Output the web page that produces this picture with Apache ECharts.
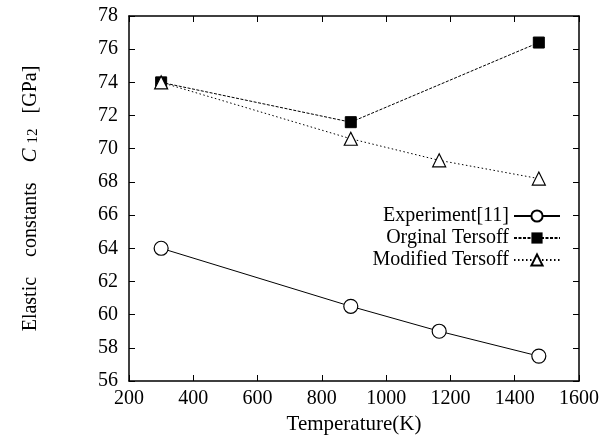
<!DOCTYPE html>
<html>
<head>
<meta charset="utf-8">
<script src="https://cdn.jsdelivr.net/npm/echarts@6/dist/echarts.min.js"></script>
<style>
  html, body { margin: 0; padding: 0; background: #fff; }
  #main { width: 610px; height: 435px; }
</style>
</head>
<body>
<div id="main"></div>
<script>
var expT = [300, 890, 1165, 1475];
var expC12 = [64.0, 60.5, 59.0, 57.5];
var origT = [300, 890, 1475];
var origC12 = [74.0, 71.6, 76.4];
var modT = [300, 890, 1165, 1475];
var modC12 = [74.0, 70.6, 69.3, 68.2];

function pairs(xs, ys) {
  return xs.map(function (x, i) { return [x, ys[i]]; });
}

var font = 'Liberation Serif';
var myChart = echarts.init(document.getElementById('main'));
var option = {
  animation: false,
  textStyle: { fontFamily: font, color: '#000' },
  grid: { left: 129, right: 31, top: 16, bottom: 54, outerBoundsMode: 'none', containLabel: false },
  legend: {
    orient: 'vertical',
    right: 44,
    top: 201,
    align: 'right',
    itemWidth: 46,
    itemHeight: 14,
    itemGap: 2,
    textStyle: { fontFamily: font, fontSize: 20, color: '#000' },
    data: ['Experiment[11]', 'Orginal Tersoff', 'Modified Tersoff']
  },
  xAxis: [
    {
      type: 'value', min: 200, max: 1600, interval: 200,
      name: 'Temperature(K)', nameLocation: 'middle', nameGap: 30,
      nameTextStyle: { fontFamily: font, fontSize: 21, color: '#000' },
      axisLine: { lineStyle: { color: '#000', width: 1.5 } },
      axisTick: { inside: true, length: 6, lineStyle: { color: '#000' } },
      axisLabel: { fontFamily: font, fontSize: 20, color: '#000', margin: 8,
        formatter: function (v) { return String(v); } },
      splitLine: { show: false }
    },
    {
      type: 'value', min: 200, max: 1600, interval: 200, position: 'top',
      axisLine: { show: true, lineStyle: { color: '#000', width: 1.5 } },
      axisTick: { inside: true, length: 6, lineStyle: { color: '#000' } },
      axisLabel: { show: false },
      splitLine: { show: false }
    }
  ],
  yAxis: [
    {
      type: 'value', min: 56, max: 78, interval: 2,
      name: 'Elastic    constants    {i|C} {s|12}   [GPa]',
      nameLocation: 'middle', nameGap: 88, nameRotate: 90,
      nameTextStyle: {
        fontFamily: font, fontSize: 20, color: '#000',
        rich: {
          i: { fontFamily: font, fontSize: 21, fontStyle: 'italic', color: '#000' },
          s: { fontFamily: font, fontSize: 15, color: '#000', verticalAlign: 'bottom', padding: [6, 0, 0, 0] }
        }
      },
      axisLine: { show: true, lineStyle: { color: '#000', width: 1.5 } },
      axisTick: { inside: true, length: 6, lineStyle: { color: '#000' } },
      axisLabel: { fontFamily: font, fontSize: 20, color: '#000', margin: 11 },
      splitLine: { show: false }
    },
    {
      type: 'value', min: 56, max: 78, interval: 2, position: 'right',
      axisLine: { show: true, lineStyle: { color: '#000', width: 1.5 } },
      axisTick: { inside: true, length: 6, lineStyle: { color: '#000' } },
      axisLabel: { show: false },
      splitLine: { show: false }
    }
  ],
  series: [
    {
      name: 'Experiment[11]', type: 'line',
      data: pairs(expT, expC12),
      symbol: 'circle', symbolSize: 14,
      itemStyle: { color: '#fff', borderColor: '#000', borderWidth: 1.2 },
      lineStyle: { color: '#000', width: 1, type: 'solid' }
    },
    {
      name: 'Orginal Tersoff', type: 'line',
      data: pairs(origT, origC12),
      symbol: 'rect', symbolSize: 11,
      itemStyle: { color: '#000', borderColor: '#000' },
      lineStyle: { color: '#000', width: 1, type: [3, 1.5] }
    },
    {
      name: 'Modified Tersoff', type: 'line',
      data: pairs(modT, modC12),
      symbol: 'triangle', symbolSize: 13,
      itemStyle: { color: '#fff', borderColor: '#000', borderWidth: 1.2 },
      lineStyle: { color: '#000', width: 1, type: [1.5, 2.5] }
    }
  ]
};
myChart.setOption(option);
</script>
</body>
</html>
